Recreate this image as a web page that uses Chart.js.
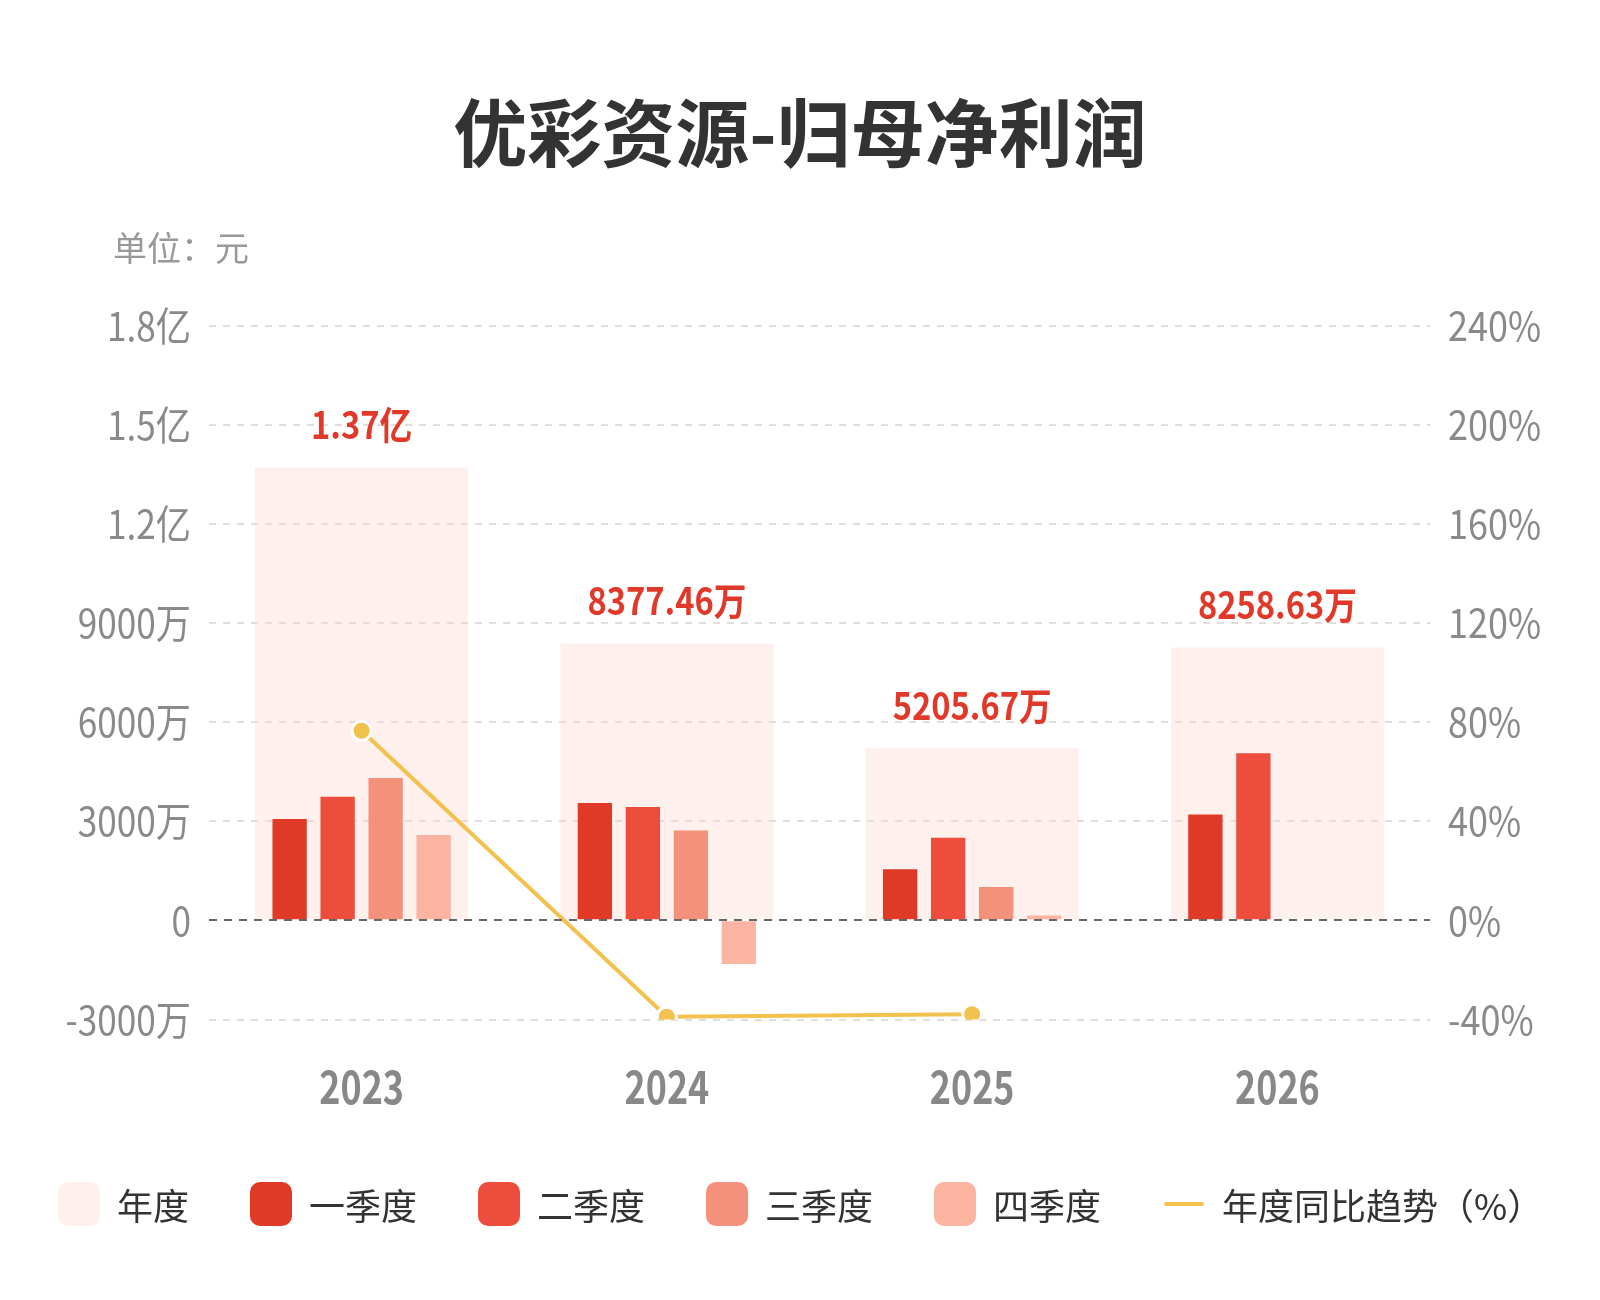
<!DOCTYPE html>
<html>
<head>
<meta charset="utf-8">
<title>优彩资源-归母净利润</title>
<script src="https://cdn.jsdelivr.net/npm/chart.js@4.4.1/dist/chart.umd.min.js"></script>
<style>
  html, body { margin: 0; padding: 0; background: #fff; }
  #wrap { position: relative; width: 1600px; height: 1300px; font-family: "Noto Sans CJK SC", sans-serif; }
  #chart { position: absolute; left: 0; top: 0; }
  .title { position: absolute; left: 0; top: 92px; width: 1600px; text-align: center; font-size: 74px; font-weight: bold; line-height: 74px; color: #333; }
  .unit { position: absolute; left: 113px; top: 230px; font-size: 34px; line-height: 34px; color: #999; }
  .legend { position: absolute; left: 58px; top: 1182px; display: flex; align-items: center; gap: 61px; }
  .legend .item { display: flex; align-items: center; font-size: 36px; line-height: 44px; color: #333; }
  .legend .box { width: 42px; height: 44px; border-radius: 10px; margin-right: 17px; }
  .legend .line { width: 40px; height: 4px; border-radius: 2px; margin-left: 2px; margin-right: 18px; }
</style>
</head>
<body>
<div id="wrap">
  <canvas id="chart" width="1600" height="1300"></canvas>
  <div class="title">优彩资源-归母净利润</div>
  <div class="unit">单位：元</div>
  <div class="legend" id="legend"></div>
</div>
<script>
// values in 万元
const years = ['2023', '2024', '2025', '2026'];
const annual = [13700, 8377.46, 5205.67, 8258.63];
const q1 = [3070, 3550, 1550, 3200];
const q2 = [3740, 3430, 2500, 5060];
const q3 = [4310, 2720, 1010, null];
const q4 = [2580, -1322, 145.67, null];
const yoy = [76.5, -38.85, -37.86, null];

const leftAxis = { min: -3000, max: 18000, step: 3000 };
const rightAxis = { min: -40, max: 240, step: 40 };

const quarterNames = ['一季度', '二季度', '三季度', '四季度'];
const quarterColors = ['#E03A27', '#EC4D3C', '#F4917A', '#FBB3A2'];
const annualColor = 'rgba(252, 212, 201, 0.35)';
const annualSwatch = '#FEF0EC';
const lineColor = '#F2C14E';
const NUM_FONT = "'Noto Sans CJK SC', sans-serif";

function fmtAxis(v) {
  if (v === 0) return '0';
  if (Math.abs(v) >= 10000) return (v / 10000).toFixed(1) + '亿';
  return v + '万';
}
function fmtTotal(v) {
  if (Math.abs(v) >= 10000) return (v / 10000).toFixed(2) + '亿';
  return v.toFixed(2) + '万';
}

// narrow text like the original's condensed face
function condensedText(ctx, text, x, y, align, sx) {
  ctx.save();
  ctx.translate(x, y);
  ctx.scale(sx, 1);
  ctx.textAlign = align;
  ctx.fillText(text, 0, 0);
  ctx.restore();
}

const zeroLine = {
  id: 'zeroLine',
  afterDatasetsDraw(chart) {
    const {ctx, chartArea, scales: {y}} = chart;
    const py = Math.round(y.getPixelForValue(0));
    ctx.save();
    ctx.strokeStyle = '#666';
    ctx.lineWidth = 2;
    ctx.setLineDash([8, 7]);
    ctx.beginPath();
    ctx.moveTo(chartArea.left, py);
    ctx.lineTo(chartArea.right, py);
    ctx.stroke();
    ctx.restore();
  }
};

const totalLabels = {
  id: 'totalLabels',
  afterDatasetsDraw(chart) {
    const ctx = chart.ctx;
    const idx = chart.data.datasets.findIndex(d => d.label === '年度');
    const meta = chart.getDatasetMeta(idx);
    ctx.save();
    ctx.font = 'bold 38px ' + NUM_FONT;
    ctx.fillStyle = '#E0392A';
    ctx.textBaseline = 'middle';
    meta.data.forEach((bar, i) => {
      condensedText(ctx, fmtTotal(annual[i]), bar.x, bar.y - 43, 'center', 0.86);
    });
    ctx.restore();
  }
};

const axisLabels = {
  id: 'axisLabels',
  afterDraw(chart) {
    const {ctx, chartArea, scales: {x, y, y2}} = chart;
    ctx.save();
    ctx.textBaseline = 'middle';
    ctx.fillStyle = '#8a8a8a';
    ctx.font = '40px ' + NUM_FONT;
    y.ticks.forEach((t, i) => {
      condensedText(ctx, fmtAxis(t.value), chartArea.left - 18, y.getPixelForTick(i), 'right', 0.88);
    });
    y2.ticks.forEach((t, i) => {
      condensedText(ctx, t.value + '%', chartArea.right + 18, y2.getPixelForTick(i), 'left', 0.9);
    });
    ctx.fillStyle = '#888';
    ctx.font = 'bold 46px ' + NUM_FONT;
    x.ticks.forEach((t, i) => {
      condensedText(ctx, years[i], x.getPixelForTick(i), chartArea.bottom + 67, 'center', 0.78);
    });
    ctx.restore();
  }
};

const quarterSets = [q1, q2, q3, q4].map((q, i) => ({
  label: quarterNames[i],
  data: q,
  backgroundColor: quarterColors[i],
  order: 1,
  categoryPercentage: 0.629,
  barPercentage: 0.715,
  yAxisID: 'y'
}));

const ctx = document.getElementById('chart').getContext('2d');
const chart = new Chart(ctx, {
  type: 'bar',
  data: {
    labels: years,
    datasets: [
      {
        type: 'line',
        label: '年度同比趋势（%）',
        data: yoy,
        yAxisID: 'y2',
        order: 0,
        borderColor: lineColor,
        borderWidth: 4,
        pointRadius: 9.5,
        pointBackgroundColor: lineColor,
        pointBorderColor: '#fff',
        pointBorderWidth: 3,
        tension: 0
      },
      ...quarterSets,
      {
        label: '年度',
        data: annual,
        backgroundColor: annualColor,
        grouped: false,
        order: 2,
        categoryPercentage: 1,
        barPercentage: 0.698,
        yAxisID: 'y'
      }
    ]
  },
  options: {
    responsive: false,
    animation: false,
    layout: { padding: { left: 0, right: 0, top: 325.5, bottom: 180.5 } },
    plugins: {
      legend: { display: false },
      tooltip: { enabled: false }
    },
    scales: {
      x: {
        grid: { display: false },
        border: { display: false },
        ticks: { display: false },
        afterFit: s => { s.height = 100; }
      },
      y: {
        position: 'left',
        min: leftAxis.min,
        max: leftAxis.max,
        ticks: { stepSize: leftAxis.step, display: false },
        grid: {
          drawTicks: false,
          lineWidth: 2,
          color: c => c.tick.value === 0 ? 'rgba(0,0,0,0)' : '#dedede'
        },
        border: { display: false, dash: [7, 7] },
        afterFit: s => { s.width = 209; }
      },
      y2: {
        position: 'right',
        min: rightAxis.min,
        max: rightAxis.max,
        ticks: { stepSize: rightAxis.step, display: false },
        grid: { display: false, drawTicks: false },
        border: { display: false },
        afterFit: s => { s.width = 170; }
      }
    }
  },
  plugins: [zeroLine, totalLabels, axisLabels]
});

// html legend
const legendEl = document.getElementById('legend');
const legendItems = [{ name: '年度', color: annualSwatch, kind: 'box' }]
  .concat(quarterNames.map((n, i) => ({ name: n, color: quarterColors[i], kind: 'box' })))
  .concat([{ name: '年度同比趋势（%）', color: lineColor, kind: 'line' }]);
legendItems.forEach(it => {
  const item = document.createElement('div');
  item.className = 'item';
  const sw = document.createElement('span');
  sw.className = it.kind;
  sw.style.background = it.color;
  item.appendChild(sw);
  item.appendChild(document.createTextNode(it.name));
  legendEl.appendChild(item);
});
</script>
</body>
</html>
